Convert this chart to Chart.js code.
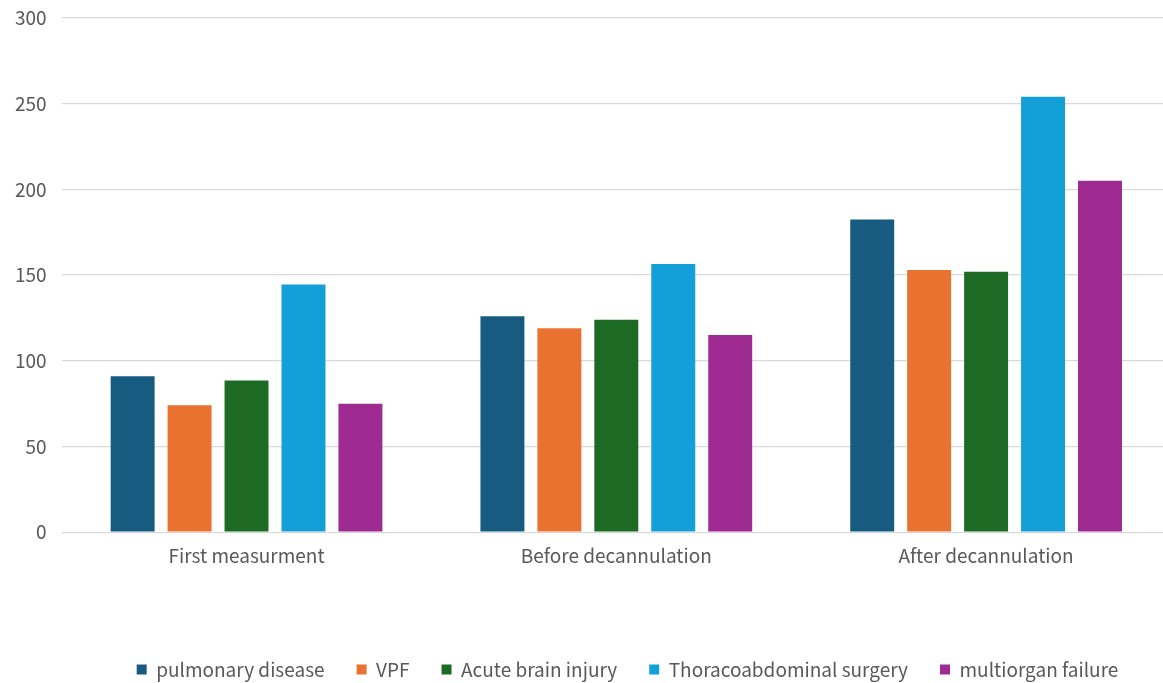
<!DOCTYPE html>
<html>
<head>
<meta charset="utf-8">
<script src="https://cdn.jsdelivr.net/npm/chart.js@4.4.1/dist/chart.umd.min.js"></script>
<style>
  html, body { margin: 0; padding: 0; background: #fff; }
  #clip { width: 1163px; height: 683px; overflow: hidden; }
  #wrap { width: 1171px; height: 683px; }
</style>
</head>
<body>
<div id="clip"><div id="wrap"><canvas id="barChart"></canvas></div></div>
<script>
// values
var categories = ['First measurment', 'Before decannulation', 'After decannulation']
var pulmonaryDisease = [91, 126, 182.5]
var vpf = [74, 119, 153]
var acuteBrainInjury = [88.5, 124, 152]
var thoracoSurgery = [144.5, 156.5, 254]
var multiorganFailure = [75, 115, 205]
var yTicks = [0, 50, 100, 150, 200, 250, 300]

var textColor = '#595959'
var fontFamily = '"Noto Sans CJK SC", "Noto Sans", sans-serif'

// the legend in the picture sits a bit right of centre
const legendShift = {
    id: 'legendShift',
    afterInit: function (chart) {
        var legend = chart.legend
        var origDraw = legend.draw
        legend.draw = function () {
            var c = chart.ctx
            c.save()
            c.translate(42, 0)
            origDraw.apply(legend, arguments)
            c.restore()
        }
    }
}

const ctx = document.getElementById('barChart').getContext('2d');

const barChart = new Chart(ctx, {
    type: 'bar',
    data: {
        labels: categories,
        datasets: [
            { label: 'pulmonary disease', data: pulmonaryDisease, backgroundColor: '#175c80' },
            { label: 'VPF', data: vpf, backgroundColor: '#e97231' },
            { label: 'Acute brain injury', data: acuteBrainInjury, backgroundColor: '#1c6a24' },
            { label: 'Thoracoabdominal surgery', data: thoracoSurgery, backgroundColor: '#139fd7' },
            { label: 'multiorgan failure', data: multiorganFailure, backgroundColor: '#9e2a92' }
        ]
    },
    plugins: [legendShift],
    options: {
        responsive: true,
        maintainAspectRatio: false,
        animation: false,
        layout: {
            padding: { top: 18, right: 0, left: 0, bottom: -6 }
        },
        datasets: {
            bar: { categoryPercentage: 0.77, barPercentage: 0.772 }
        },
        plugins: {
            tooltip: { enabled: false },
            legend: {
                position: 'bottom',
                labels: {
                    color: textColor,
                    font: { family: fontFamily, size: 19 },
                    boxWidth: 10,
                    boxHeight: 10,
                    padding: 32
                }
            }
        },
        scales: {
            x: {
                grid: { display: false },
                border: { display: false },
                ticks: {
                    color: textColor,
                    font: { family: fontFamily, size: 19 },
                    padding: 4
                },
                afterFit: function (scale) {
                    scale.height += 57
                }
            },
            y: {
                min: 0,
                max: 300,
                afterBuildTicks: function (scale) {
                    scale.ticks = yTicks.map(function (v) { return { value: v } })
                },
                afterFit: function (scale) {
                    scale.paddingTop = 0
                },
                grid: { color: '#d9d9d9', lineWidth: 1.3, drawTicks: false },
                border: { display: false },
                ticks: {
                    color: textColor,
                    font: { family: fontFamily, size: 19 },
                    padding: 15
                }
            }
        }
    }
});
</script>
</body>
</html>
